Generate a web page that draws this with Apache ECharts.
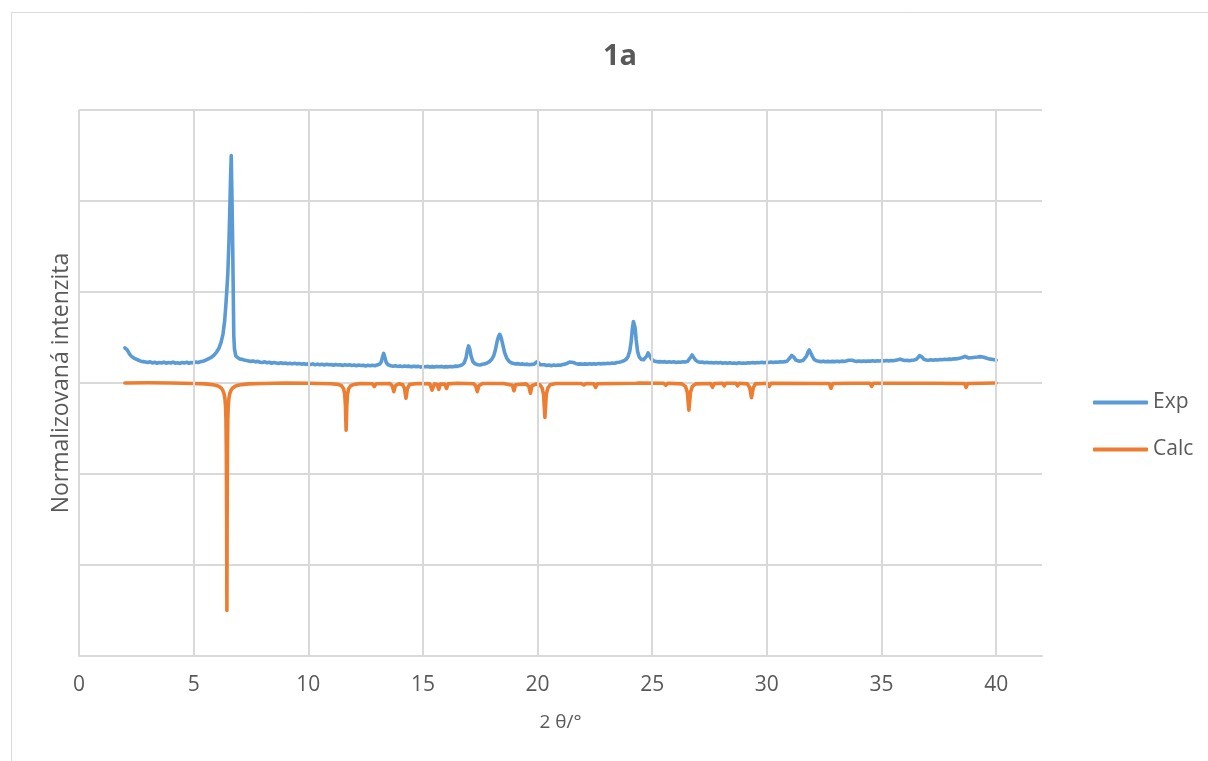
<!DOCTYPE html>
<html>
<head>
<meta charset="utf-8">
<script src="https://cdn.jsdelivr.net/npm/echarts@6/dist/echarts.min.js"></script>
<style>
html,body{margin:0;padding:0;background:#fff;}
#chart{width:1208px;height:761px;}
</style>
</head>
<body>
<div id="chart"></div>
<script>
// ---- data ----
const chartTitle = '1a';
const xAxisTitle = '2 θ/°';
const yAxisTitle = 'Normalizovaná intenzita';
const seriesNames = ['Exp', 'Calc'];
const xGridValues = [0, 5, 10, 15, 20, 25, 30, 35, 40];

const expData = [
[2.00,0.154],[2.05,0.158],[2.10,0.146],[2.15,0.138],[2.20,0.128],[2.28,0.118],[2.35,0.112],[2.42,0.108],[2.50,0.104],[2.60,0.100],
[2.70,0.096],[2.80,0.094],[2.90,0.092],[3.00,0.090],[3.10,0.093],[3.20,0.088],[3.30,0.091],[3.40,0.087],[3.50,0.090],[3.60,0.088],
[3.70,0.092],[3.80,0.087],[3.90,0.090],[4.00,0.088],[4.10,0.092],[4.20,0.087],[4.30,0.089],[4.40,0.086],[4.50,0.090],[4.60,0.088],
[4.70,0.091],[4.80,0.087],[4.90,0.090],[5.00,0.089],[5.10,0.092],[5.20,0.090],[5.30,0.094],[5.40,0.096],[5.50,0.099],[5.60,0.104],
[5.70,0.109],[5.80,0.115],[5.90,0.124],[6.00,0.136],[6.10,0.152],[6.20,0.180],[6.28,0.215],[6.35,0.270],[6.40,0.335],[6.45,0.410],
[6.49,0.480],[6.54,0.620],[6.58,0.775],[6.61,0.900],[6.64,1.000],[6.67,0.820],[6.70,0.630],[6.73,0.380],[6.75,0.210],[6.78,0.150],
[6.84,0.118],[6.92,0.110],[7.00,0.106],[7.10,0.104],[7.20,0.101],[7.30,0.099],[7.40,0.097],[7.50,0.095],[7.60,0.097],[7.70,0.093],
[7.80,0.095],[7.90,0.091],[8.00,0.090],[8.10,0.093],[8.20,0.089],[8.30,0.091],[8.40,0.087],[8.50,0.090],[8.60,0.088],[8.70,0.086],
[8.80,0.089],[8.90,0.086],[9.00,0.088],[9.10,0.085],[9.20,0.087],[9.30,0.084],[9.40,0.087],[9.50,0.084],[9.60,0.086],[9.70,0.083],
[9.80,0.085],[9.90,0.082],[10.00,0.084],[10.10,0.081],[10.20,0.084],[10.30,0.080],[10.40,0.083],[10.50,0.080],[10.60,0.082],[10.70,0.079],
[10.80,0.082],[10.90,0.080],[11.00,0.081],[11.10,0.078],[11.20,0.081],[11.30,0.079],[11.40,0.080],[11.50,0.077],[11.60,0.080],[11.70,0.078],
[11.80,0.080],[11.90,0.077],[12.00,0.079],[12.10,0.076],[12.20,0.079],[12.30,0.077],[12.40,0.078],[12.50,0.075],[12.60,0.078],[12.70,0.076],
[12.80,0.078],[12.90,0.076],[13.00,0.079],[13.10,0.082],[13.18,0.092],[13.24,0.115],[13.29,0.130],[13.34,0.112],[13.40,0.090],[13.48,0.080],
[13.60,0.076],[13.70,0.074],[13.80,0.076],[13.90,0.073],[14.00,0.075],[14.10,0.072],[14.20,0.075],[14.30,0.073],[14.40,0.074],[14.50,0.071],
[14.60,0.074],[14.70,0.072],[14.80,0.073],[14.90,0.070],[15.00,0.073],[15.10,0.071],[15.20,0.073],[15.30,0.070],[15.40,0.072],[15.50,0.070],
[15.60,0.073],[15.70,0.071],[15.80,0.073],[15.90,0.070],[16.00,0.072],[16.10,0.071],[16.20,0.073],[16.30,0.071],[16.40,0.074],[16.50,0.073],
[16.60,0.076],[16.70,0.079],[16.80,0.088],[16.88,0.110],[16.94,0.145],[16.99,0.163],[17.04,0.150],[17.10,0.118],[17.18,0.094],[17.28,0.084],
[17.40,0.080],[17.50,0.079],[17.60,0.082],[17.70,0.084],[17.80,0.088],[17.90,0.094],[18.00,0.104],[18.08,0.118],[18.16,0.145],[18.23,0.180],
[18.30,0.205],[18.35,0.214],[18.41,0.200],[18.48,0.170],[18.56,0.135],[18.65,0.110],[18.75,0.096],[18.85,0.089],[18.95,0.086],[19.05,0.084],
[19.15,0.085],[19.25,0.082],[19.35,0.084],[19.45,0.081],[19.55,0.083],[19.65,0.080],[19.75,0.082],[19.85,0.083],[19.93,0.090],[19.98,0.094],
[20.04,0.088],[20.12,0.080],[20.20,0.078],[20.30,0.080],[20.40,0.077],[20.50,0.079],[20.60,0.076],[20.70,0.079],[20.80,0.077],[20.90,0.079],
[21.00,0.078],[21.10,0.081],[21.20,0.083],[21.30,0.087],[21.40,0.092],[21.48,0.094],[21.56,0.090],[21.66,0.086],[21.76,0.083],[21.86,0.084],
[21.96,0.082],[22.06,0.084],[22.16,0.082],[22.26,0.085],[22.36,0.083],[22.46,0.085],[22.56,0.083],[22.66,0.086],[22.76,0.084],[22.86,0.086],
[22.96,0.085],[23.06,0.087],[23.16,0.086],[23.26,0.088],[23.36,0.087],[23.46,0.090],[23.56,0.091],[23.66,0.094],[23.76,0.098],[23.86,0.104],
[23.94,0.115],[24.02,0.140],[24.08,0.180],[24.13,0.235],[24.18,0.270],[24.21,0.274],[24.25,0.245],[24.30,0.190],[24.36,0.140],[24.43,0.115],
[24.52,0.104],[24.62,0.102],[24.70,0.106],[24.76,0.118],[24.82,0.132],[24.88,0.125],[24.95,0.108],[25.04,0.098],[25.14,0.095],[25.24,0.093],
[25.34,0.094],[25.44,0.092],[25.54,0.094],[25.64,0.091],[25.74,0.093],[25.84,0.091],[25.94,0.093],[26.04,0.090],[26.14,0.092],[26.24,0.091],
[26.34,0.093],[26.44,0.092],[26.54,0.095],[26.62,0.102],[26.68,0.114],[26.74,0.123],[26.80,0.115],[26.88,0.102],[26.98,0.094],[27.08,0.091],
[27.18,0.092],[27.28,0.089],[27.38,0.091],[27.48,0.089],[27.58,0.090],[27.68,0.088],[27.78,0.090],[27.88,0.088],[27.98,0.090],[28.08,0.087],
[28.18,0.089],[28.28,0.087],[28.38,0.089],[28.48,0.087],[28.58,0.088],[28.68,0.086],[28.78,0.089],[28.88,0.087],[28.98,0.088],[29.08,0.087],
[29.18,0.089],[29.28,0.088],[29.38,0.090],[29.48,0.088],[29.58,0.090],[29.68,0.089],[29.78,0.091],[29.88,0.089],[29.98,0.091],[30.08,0.090],
[30.18,0.092],[30.28,0.090],[30.38,0.092],[30.48,0.091],[30.58,0.093],[30.68,0.092],[30.78,0.094],[30.88,0.096],[30.96,0.101],[31.02,0.112],
[31.08,0.121],[31.13,0.123],[31.19,0.112],[31.26,0.101],[31.34,0.097],[31.42,0.096],[31.50,0.097],[31.58,0.099],[31.66,0.104],[31.73,0.118],
[31.79,0.135],[31.85,0.145],[31.91,0.138],[31.98,0.118],[32.06,0.104],[32.16,0.098],[32.26,0.096],[32.36,0.094],[32.46,0.096],[32.56,0.093],
[32.66,0.095],[32.76,0.093],[32.86,0.095],[32.96,0.094],[33.06,0.096],[33.16,0.094],[33.26,0.096],[33.36,0.095],[33.46,0.097],[33.56,0.100],
[33.64,0.104],[33.72,0.100],[33.82,0.097],[33.92,0.095],[34.02,0.097],[34.12,0.095],[34.22,0.097],[34.32,0.095],[34.42,0.097],[34.52,0.096],
[34.62,0.098],[34.72,0.096],[34.82,0.098],[34.92,0.097],[35.02,0.099],[35.12,0.097],[35.22,0.099],[35.32,0.097],[35.42,0.099],[35.52,0.098],
[35.62,0.100],[35.72,0.102],[35.82,0.105],[35.92,0.101],[36.02,0.099],[36.12,0.100],[36.22,0.098],[36.32,0.100],[36.42,0.101],[36.52,0.104],
[36.60,0.112],[36.66,0.120],[36.71,0.123],[36.77,0.114],[36.85,0.104],[36.95,0.101],[37.05,0.100],[37.15,0.102],[37.25,0.100],[37.35,0.102],
[37.45,0.101],[37.55,0.103],[37.65,0.102],[37.75,0.104],[37.85,0.103],[37.95,0.105],[38.05,0.104],[38.15,0.106],[38.25,0.106],[38.35,0.108],
[38.45,0.110],[38.55,0.113],[38.64,0.117],[38.72,0.113],[38.80,0.110],[38.90,0.111],[39.00,0.112],[39.10,0.113],[39.20,0.114],[39.30,0.116],
[39.38,0.117],[39.46,0.113],[39.56,0.110],[39.66,0.107],[39.76,0.105],[39.86,0.103],[39.96,0.101],[40.00,0.100]
];

const calcData = [
[2.0,0],[3.0,0.001],[4.0,0],[5.0,-0.002],[5.5,-0.004],[5.8,-0.007],[6.0,-0.011],[6.1,-0.015],[6.2,-0.022],[6.27,-0.032],
[6.32,-0.045],[6.36,-0.065],[6.39,-0.10],[6.41,-0.16],[6.425,-0.30],[6.44,-0.60],[6.45,-1.0],[6.46,-0.60],[6.475,-0.30],[6.49,-0.16],
[6.51,-0.10],[6.54,-0.065],[6.58,-0.045],[6.63,-0.032],[6.70,-0.022],[6.80,-0.015],[6.90,-0.011],[7.1,-0.007],[7.4,-0.004],[8.0,-0.002],
[9.0,0],[10.0,-0.001],[11.0,-0.003],[11.3,-0.006],[11.45,-0.012],[11.54,-0.025],[11.59,-0.05],[11.62,-0.10],[11.65,-0.207],[11.68,-0.10],
[11.71,-0.05],[11.76,-0.025],[11.85,-0.012],[12.0,-0.006],[12.3,-0.002],[12.8,-0.003],[12.88,-0.015],[12.96,-0.003],[13.0,0.001],[13.55,-0.002],
[13.66,-0.012],[13.73,-0.038],[13.80,-0.012],[13.95,-0.003],[14.12,-0.008],[14.2,-0.025],[14.26,-0.067],[14.32,-0.025],[14.42,-0.006],[14.8,-0.002],
[15.3,-0.004],[15.4,-0.031],[15.5,-0.004],[15.62,-0.006],[15.69,-0.028],[15.76,-0.005],[15.95,-0.005],[16.03,-0.024],[16.1,-0.004],[16.5,-0.001],
[17.2,-0.003],[17.3,-0.012],[17.37,-0.038],[17.44,-0.012],[17.6,-0.002],[18.5,-0.002],[18.9,-0.010],[18.97,-0.034],[19.04,-0.008],[19.5,-0.004],
[19.62,-0.015],[19.69,-0.045],[19.76,-0.012],[19.95,-0.004],[20.1,-0.008],[20.2,-0.022],[20.26,-0.05],[20.32,-0.151],[20.38,-0.05],[20.45,-0.022],
[20.55,-0.008],[20.8,-0.002],[21.9,-0.002],[22.02,-0.009],[22.12,-0.002],[22.45,-0.003],[22.53,-0.019],[22.61,-0.003],[24.3,-0.001],[24.35,-0.005],
[24.42,0],[25.5,-0.001],[25.59,-0.01],[25.68,-0.001],[26.3,-0.004],[26.45,-0.015],[26.53,-0.04],[26.6,-0.119],[26.67,-0.04],[26.75,-0.015],
[26.9,-0.004],[27.55,-0.002],[27.63,-0.019],[27.71,-0.002],[28.07,-0.001],[28.14,-0.013],[28.21,-0.001],[28.65,-0.001],[28.72,-0.013],[28.79,-0.001],
[29.15,-0.004],[29.25,-0.02],[29.33,-0.064],[29.41,-0.02],[29.5,-0.004],[30.02,-0.001],[30.1,-0.015],[30.18,-0.001],[32.72,-0.002],[32.8,-0.023],
[32.88,-0.002],[33.67,-0.001],[33.74,-0.009],[33.81,-0.001],[34.5,-0.001],[34.57,-0.015],[34.64,-0.001],[37.1,-0.001],[37.16,-0.008],[37.22,-0.001],
[38.62,-0.002],[38.69,-0.019],[38.76,-0.002],[40.0,0]
];

// ---- chart ----
const FONT = '"Open Sans", "Noto Sans", sans-serif';
const TXT = '#595959';
const GRID = '#d9d9d9';

const chart = echarts.init(document.getElementById('chart'), null, {renderer: 'canvas'});
chart.setOption({
  animation: false,
  backgroundColor: '#ffffff',
  graphic: [{
    type: 'rect', z: -10, silent: true,
    shape: {x: 11.5, y: 12.5, width: 1300, height: 800},
    style: {fill: 'none', stroke: GRID, lineWidth: 1}
  }],
  title: {
    text: chartTitle,
    left: 615, top: 37, textAlign: 'center',
    textStyle: {fontFamily: FONT, fontSize: 29, fontWeight: 'bold', color: TXT}
  },
  legend: {
    data: seriesNames,
    orient: 'vertical',
    left: 1093, top: 392,
    padding: 0,
    itemWidth: 55, itemHeight: 4, itemGap: 26,
    icon: 'roundRect',
    textStyle: {fontFamily: FONT, fontSize: 21, color: TXT}
  },
  grid: {left: 79, right: 166, top: 110, bottom: 105, containLabel: false},
  xAxis: {
    type: 'value', min: 0, max: 42, interval: 5,
    name: xAxisTitle, nameLocation: 'middle', nameGap: 57,
    nameTextStyle: {fontFamily: FONT, fontSize: 19, color: TXT},
    axisLine: {show: true, onZero: false, lineStyle: {color: GRID, width: 2}},
    axisTick: {show: false},
    splitLine: {show: false},
    axisLabel: {fontFamily: FONT, fontSize: 21, color: TXT, margin: 19, showMaxLabel: false}
  },
  yAxis: {
    type: 'value', min: -1.2, max: 1.2, interval: 0.4,
    name: yAxisTitle, nameLocation: 'middle', nameGap: 6, nameRotate: 90,
    nameTextStyle: {fontFamily: FONT, fontSize: 23, color: TXT},
    axisLine: {show: false}, axisTick: {show: false},
    axisLabel: {show: false},
    splitLine: {show: true, lineStyle: {color: GRID, width: 2}}
  },
  series: [
    {
      name: 'gridX', type: 'line', data: [], z: 1, silent: true,
      markLine: {
        silent: true, symbol: ['none', 'none'], label: {show: false},
        lineStyle: {color: GRID, width: 2, type: 'solid'},
        emphasis: {disabled: true},
        data: xGridValues.map(v => ({xAxis: v}))
      }
    },
    {
      name: seriesNames[0], type: 'line', data: expData, z: 3,
      showSymbol: false, smooth: false, color: '#5B9BD5',
      lineStyle: {width: 3.6, color: '#5B9BD5', cap: 'round', join: 'round'}
    },
    {
      name: seriesNames[1], type: 'line', data: calcData, z: 2,
      showSymbol: false, smooth: false, color: '#ED7D31',
      lineStyle: {width: 3.6, color: '#ED7D31', cap: 'round', join: 'round'}
    }
  ]
});
</script>
</body>
</html>
